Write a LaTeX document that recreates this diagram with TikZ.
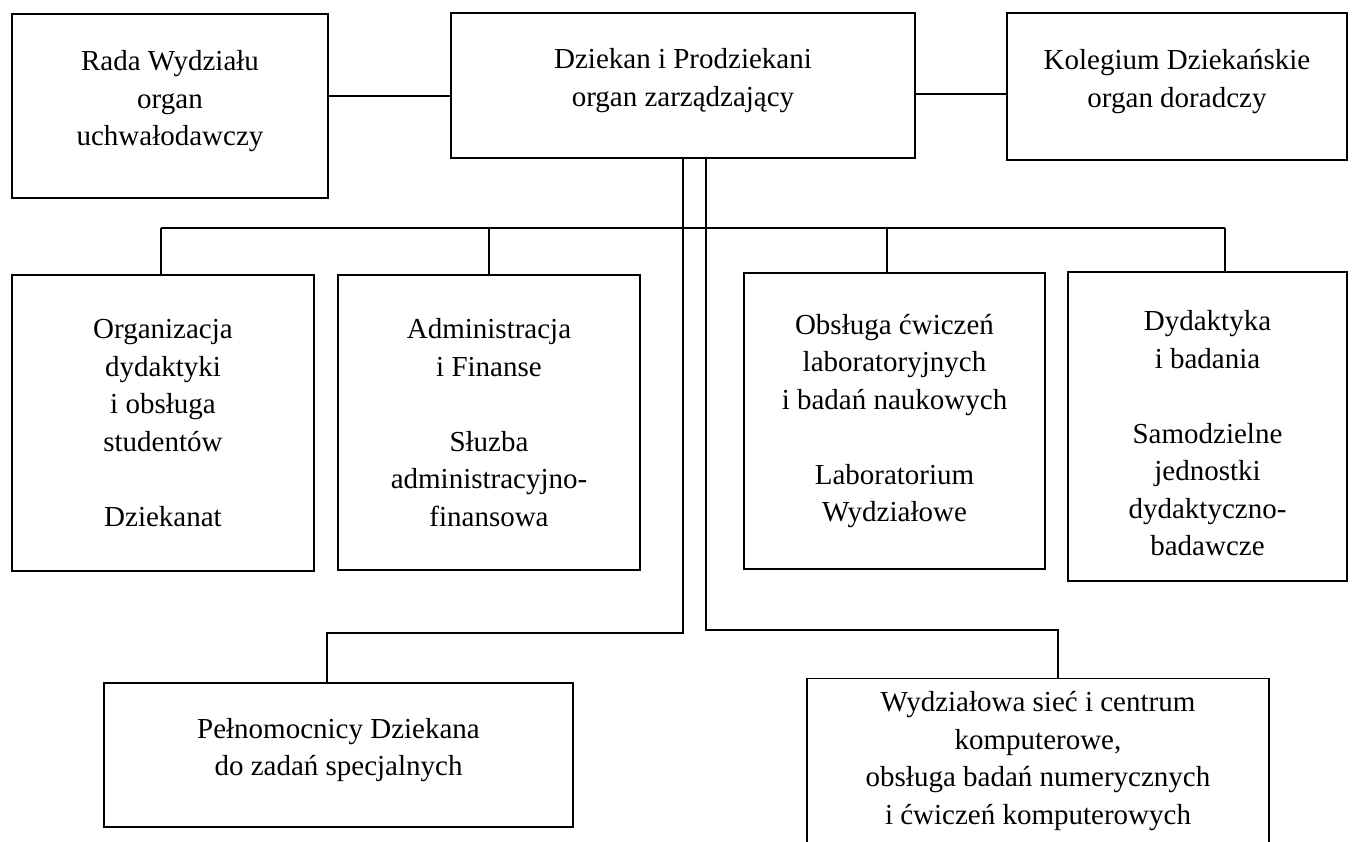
\documentclass[tikz,border=0pt]{standalone}
\usepackage{fontspec}
\setmainfont{Liberation Serif}
\begin{document}
\begin{tikzpicture}[x=1pt,y=-1pt,
  box/.style={draw, line width=1.3pt, rectangle, inner sep=0pt, align=center,
    font=\fontsize{29}{37.5}\selectfont},
  conn/.style={line width=1.3pt}]
\useasboundingbox[fill=white] (0,0) rectangle (1358,842);

% top row
\node[box, minimum width=316pt, minimum height=184pt] (rada) at (170,106)
  {Rada Wydziału\\organ\\uchwałodawczy\rule[-16pt]{0pt}{16pt}};
\node[box, minimum width=464pt, minimum height=145pt] (dziek) at (683,85.5)
  {Dziekan i Prodziekani\\organ zarządzający\rule[-16pt]{0pt}{16pt}};
\node[box, minimum width=340pt, minimum height=147pt] (kol) at (1177,86.5)
  {Kolegium Dziekańskie\\organ doradczy\rule[-16pt]{0pt}{16pt}};

% middle row
\node[box, minimum width=302pt, minimum height=296pt] (org) at (163,423)
  {Organizacja\\dydaktyki\\i obsługa\\studentów\\[37.5pt]Dziekanat};
\node[box, minimum width=302pt, minimum height=295pt] (adm) at (489,422.5)
  {Administracja\\i Finanse\\[37.5pt]Słuzba\\administracyjno-\\finansowa};
\node[box, minimum width=301pt, minimum height=296pt] (obs) at (894.5,421)
  {Obsługa ćwiczeń\\laboratoryjnych\\i badań naukowych\\[37.5pt]Laboratorium\\Wydziałowe};
\node[box, minimum width=279pt, minimum height=309pt] (dyd) at (1207.5,426.5)
  {\rule{0pt}{34pt}Dydaktyka\\i badania\\[37.5pt]Samodzielne\\jednostki\\dydaktyczno-\\badawcze};

% bottom row
\node[box, minimum width=469pt, minimum height=144pt] (pel) at (338.5,755)
  {Pełnomocnicy Dziekana\\do zadań specjalnych\rule[-16pt]{0pt}{16pt}};
\node[box, anchor=north, minimum width=462pt, inner ysep=13pt] (wyd) at (1038,678)
  {Wydziałowa sieć i centrum\\komputerowe,\\obsługa badań numerycznych\\i ćwiczeń komputerowych\rule[-40pt]{0pt}{40pt}};

% connectors, top row
\draw[conn] (rada.east |- 0,96) -- (dziek.west |- 0,96);
\draw[conn] (dziek.east |- 0,94) -- (kol.west |- 0,94);

% bus to the middle row
\coordinate (busL) at (161,228);
\coordinate (busR) at (1225,228);
\coordinate (dAdm) at (489,228);
\coordinate (dObs) at (887,228);
\draw[conn] (busL) -- (busR);
\draw[conn] (busL) -- (busL |- org.north);
\draw[conn] (dAdm) -- (dAdm |- adm.north);
\draw[conn] (dObs) -- (dObs |- obs.north);
\draw[conn] (busR) -- (busR |- dyd.north);

% lines from the Dean to the bottom row
\coordinate (kL) at (683,633);
\coordinate (pL) at (327,633);
\draw[conn] (dziek.south) -- (kL) -- (pL) -- (pL |- pel.north);
\coordinate (kR) at (706,630);
\coordinate (pR) at (1058,630);
\draw[conn] (dziek.south -| kR) -- (kR) -- (pR) -- (pR |- wyd.north);
\end{tikzpicture}
\end{document}
